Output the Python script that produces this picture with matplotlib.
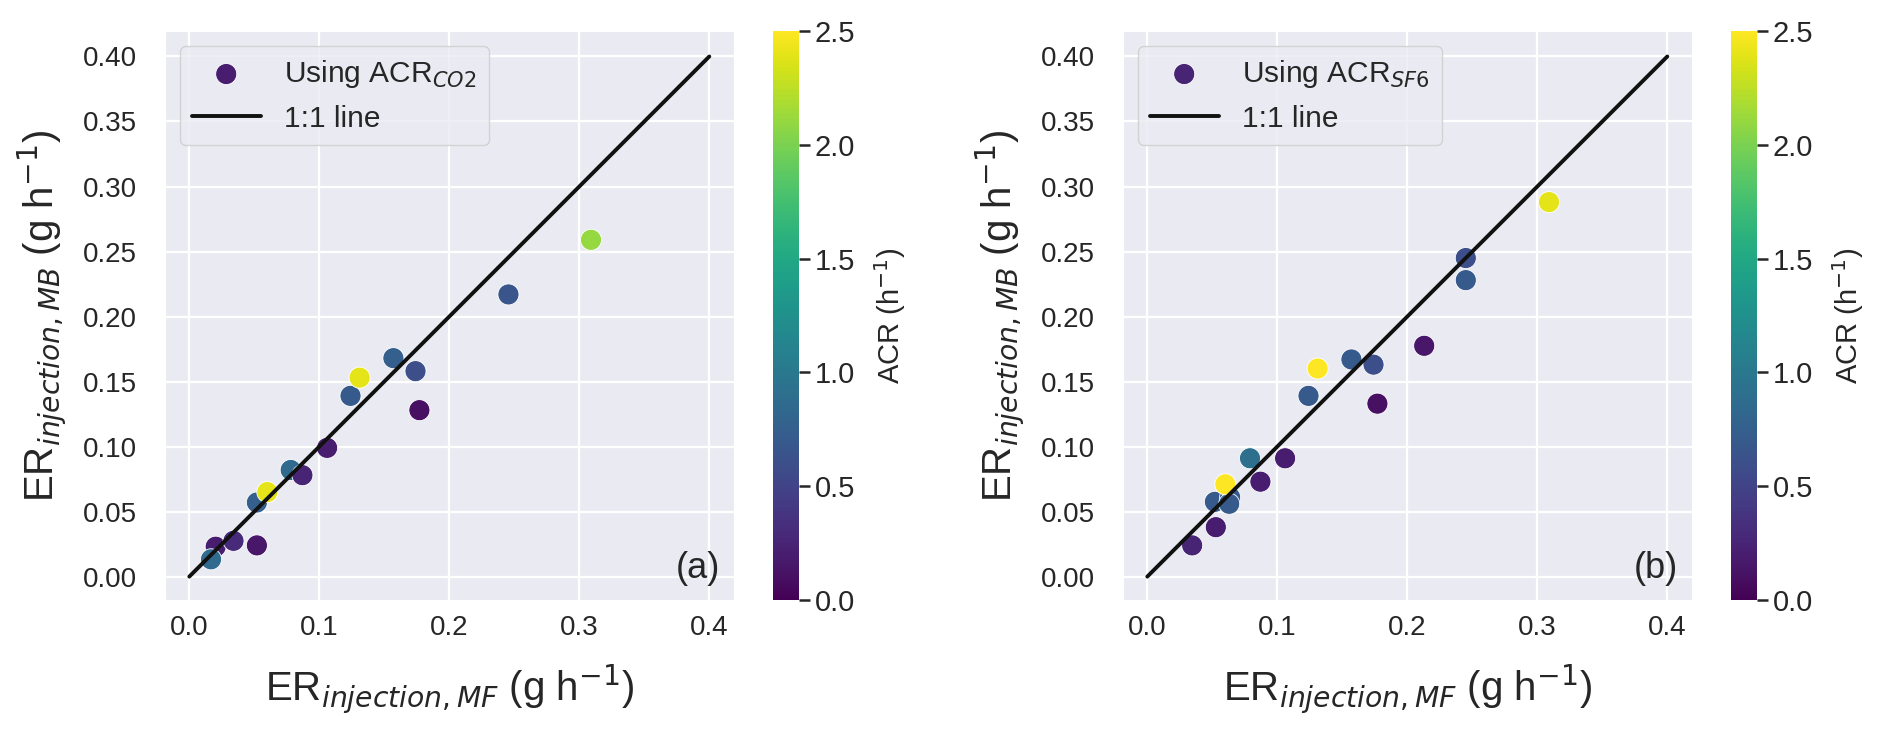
import matplotlib
matplotlib.use('Agg')
import matplotlib.pyplot as plt
import seaborn as sns
import numpy as np

sns.set_style('darkgrid')
plt.rcParams['font.family'] = ['Liberation Sans', 'DejaVu Sans']

# panel (a): ACR from CO2
mf_co2 = [0.0203, 0.0167, 0.034, 0.052, 0.052, 0.060, 0.078, 0.087, 0.106,
          0.124, 0.131, 0.157, 0.174, 0.177, 0.2455, 0.309]
mb_co2 = [0.023, 0.0133, 0.0275, 0.024, 0.057, 0.065, 0.082, 0.078, 0.099,
          0.139, 0.153, 0.168, 0.158, 0.128, 0.217, 0.259]
acr_co2 = [0.2, 0.85, 0.3, 0.15, 0.75, 2.4, 0.85, 0.25, 0.2,
           0.7, 2.4, 0.75, 0.6, 0.1, 0.65, 2.1]

# panel (b): ACR from SF6
mf_sf6 = [0.0345, 0.0527, 0.052, 0.0637, 0.063, 0.060, 0.079, 0.087, 0.106,
          0.124, 0.131, 0.157, 0.174, 0.177, 0.213, 0.245, 0.245, 0.309]
mb_sf6 = [0.024, 0.038, 0.0575, 0.061, 0.056, 0.071, 0.091, 0.073, 0.091,
          0.139, 0.160, 0.167, 0.163, 0.133, 0.1775, 0.245, 0.228, 0.288]
acr_sf6 = [0.25, 0.2, 0.7, 0.7, 0.7, 2.5, 0.9, 0.2, 0.2,
           0.7, 2.5, 0.7, 0.6, 0.1, 0.15, 0.6, 0.7, 2.4]

one_to_one = [0.0, 0.4]
xticks = [0.0, 0.1, 0.2, 0.3, 0.4]
yticks = [0.0, 0.05, 0.10, 0.15, 0.20, 0.25, 0.30, 0.35, 0.40]
cbar_ticks = [0.0, 0.5, 1.0, 1.5, 2.0, 2.5]

panels = [
    (mf_co2, mb_co2, acr_co2, 'Using ACR$_{CO2}$', '(a)'),
    (mf_sf6, mb_sf6, acr_sf6, 'Using ACR$_{SF6}$', '(b)'),
]

fig = plt.figure(figsize=(18.92, 7.35), dpi=100)
W, H = 1892, 735
ax_lefts = [165, 1123]
ax_w = 569
ax_bottom = (735 - 600) / H
ax_h = 569 / H

for i, (x, y, c, lab, tag) in enumerate(panels):
    left = ax_lefts[i]
    ax = fig.add_axes([left / W, ax_bottom, ax_w / W, ax_h])
    cax = fig.add_axes([(left + 608) / W, ax_bottom, 26 / W, ax_h])

    sc = ax.scatter(x, y, c=c, cmap='viridis', vmin=0, vmax=2.5, s=230,
                    edgecolors='white', linewidths=0.6, label=lab, zorder=2)
    ax.plot(one_to_one, one_to_one, color='#111111', lw=2.8, label='1:1 line', zorder=3)

    ax.set_xticks(xticks)
    ax.set_yticks(yticks)
    ax.set_xticklabels(['%.1f' % t for t in xticks])
    ax.set_yticklabels(['%.2f' % t for t in yticks])
    ax.tick_params(labelsize=20)
    ax.tick_params(axis='x', pad=7)
    ax.tick_params(axis='y', pad=17)
    ax.set_xlim(-0.0187, 0.419)
    ax.set_ylim(-0.018, 0.4196)
    ax.grid(lw=1.6)

    ax.set_xlabel('ER$_{injection,MF}$ (g h$^{-1}$)', fontsize=29, labelpad=16)
    ax.set_ylabel('ER$_{injection,MB}$ (g h$^{-1}$)', fontsize=29, labelpad=10)
    ax.legend(loc='upper left', fontsize=21.5, handlelength=2.3, borderaxespad=0.5)
    ax.text(0.975, 0.025, tag, transform=ax.transAxes, ha='right', va='bottom', fontsize=26)

    cb = fig.colorbar(sc, cax=cax, ticks=cbar_ticks)
    cb.outline.set_visible(False)
    cb.ax.tick_params(labelsize=21, length=8, width=1.8)
    cb.set_label('ACR (h$^{-1}$)', fontsize=21, labelpad=12)

fig.savefig('out.png', dpi=100)
